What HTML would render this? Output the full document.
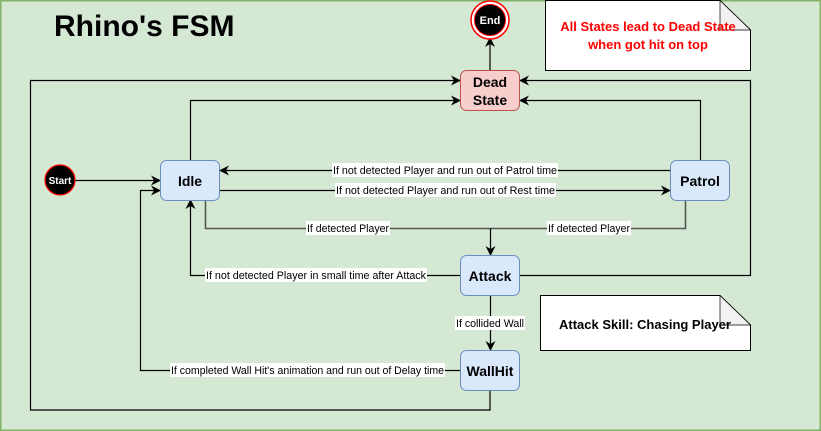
<!DOCTYPE html>
<html><head><meta charset="utf-8"><style>
html,body{margin:0;padding:0;background:#d5e8d4;}
svg{display:block;}
text{font-family:"Liberation Sans",Arial,sans-serif;}
.lbl{font-size:11px;fill:#000;}
.st{font-size:14px;font-weight:bold;fill:#000;}
</style></head><body>
<svg width="821" height="431" viewBox="0 0 821 431" xmlns="http://www.w3.org/2000/svg">
<defs>
<marker id="a" markerWidth="10" markerHeight="10" refX="9" refY="5" orient="auto" markerUnits="userSpaceOnUse">
<path d="M0,0 L10,5 L0,10 L3,5 Z" fill="#000"/>
</marker>
</defs>
<rect x="0.5" y="0.5" width="820" height="430" fill="#d5e8d4" stroke="#82b366" stroke-width="2"/>
<text x="54" y="36" style="font-size:30px;font-weight:bold">Rhino's FSM</text>

<path d="M545.5,0.5 H720 L750.5,30 V70.5 H545.5 Z" fill="#fff" stroke="#000"/>
<path d="M720,0.5 V30 H750.5 Z" fill="#f2f2f2" stroke="#000" stroke-width="0.7"/>
<text x="648" y="31" text-anchor="middle" style="font-size:13px;font-weight:bold;fill:#ff0000">All States lead to Dead State</text>
<text x="648" y="49" text-anchor="middle" style="font-size:13px;font-weight:bold;fill:#ff0000">when got hit on top</text>

<path d="M540.5,295.5 H720 L750.5,325 V350.5 H540.5 Z" fill="#fff" stroke="#000"/>
<path d="M720,295.5 V325 H750.5 Z" fill="#f2f2f2" stroke="#000" stroke-width="0.7"/>
<text x="645" y="329" text-anchor="middle" style="font-size:13px;font-weight:bold">Attack Skill: Chasing Player</text>

<g fill="none" stroke="#000" stroke-width="1.2">
<path d="M490,70 V38" marker-end="url(#a)"/>
<path d="M490,390 V410 H30.5 V80.5 H460" marker-end="url(#a)"/>
<path d="M520,275.5 H750.5 V80.5 H520" marker-end="url(#a)"/>
<path d="M190.5,160 V100.5 H460" marker-end="url(#a)"/>
<path d="M700.5,160 V100.5 H520" marker-end="url(#a)"/>
<path d="M670,170.5 H220" marker-end="url(#a)"/>
<path d="M220,190.5 H670" marker-end="url(#a)"/>
<path d="M75,180.5 H160" marker-end="url(#a)"/>
<path d="M205.5,200 V228.5 H685.5 V200" stroke="#555" stroke-width="1.6"/>
<path d="M490.5,228.5 V255" marker-end="url(#a)"/>
<path d="M460,275.5 H190.5 V200" marker-end="url(#a)"/>
<path d="M490.5,295 V350" marker-end="url(#a)"/>
<path d="M460,370.5 H140.5 V190.5 H160" marker-end="url(#a)"/>
</g>

<g class="lbl">
<rect x="332" y="163" width="226" height="14" fill="#fff"/>
<text x="333" y="174" textLength="224" lengthAdjust="spacingAndGlyphs">If not detected Player and run out of Patrol time</text>
<rect x="335" y="183" width="221" height="14" fill="#fff"/>
<text x="336" y="194" textLength="219" lengthAdjust="spacingAndGlyphs">If not detected Player and run out of Rest time</text>
<rect x="306" y="221" width="84" height="14" fill="#fff"/>
<text x="307" y="232" textLength="82" lengthAdjust="spacingAndGlyphs">If detected Player</text>
<rect x="547" y="221" width="84" height="14" fill="#fff"/>
<text x="548" y="232" textLength="82" lengthAdjust="spacingAndGlyphs">If detected Player</text>
<rect x="205" y="268" width="222" height="14" fill="#fff"/>
<text x="206" y="279" textLength="220" lengthAdjust="spacingAndGlyphs">If not detected Player in small time after Attack</text>
<rect x="455" y="316" width="70" height="14" fill="#fff"/>
<text x="456" y="327" textLength="68" lengthAdjust="spacingAndGlyphs">If collided Wall</text>
<rect x="170" y="363" width="275" height="14" fill="#fff"/>
<text x="171" y="374" textLength="273" lengthAdjust="spacingAndGlyphs">If completed Wall Hit's animation and run out of Delay time</text>
</g>

<circle cx="490" cy="20" r="19" fill="#fff" stroke="#ff0000" stroke-width="1.5"/>
<circle cx="490" cy="20" r="15.5" fill="#000" stroke="#ff0000" stroke-width="1"/>
<text x="490" y="24" text-anchor="middle" style="font-size:11px;font-weight:bold;fill:#fff">End</text>

<circle cx="60" cy="180" r="15" fill="#000" stroke="#ff0000" stroke-width="1.2"/>
<text x="60" y="184" text-anchor="middle" style="font-size:10px;font-weight:bold;fill:#fff">Start</text>

<rect x="460.5" y="70.5" width="59" height="40" rx="6" fill="#f8cecc" stroke="#b85450"/>
<text x="490" y="87" text-anchor="middle" class="st">Dead</text>
<text x="490" y="105" text-anchor="middle" class="st">State</text>

<g fill="#dae8fc" stroke="#6c8ebf">
<rect x="160.5" y="160.5" width="59" height="40" rx="6"/>
<rect x="670.5" y="160.5" width="59" height="40" rx="6"/>
<rect x="460.5" y="255.5" width="59" height="40" rx="6"/>
<rect x="460.5" y="350.5" width="59" height="40" rx="6"/>
</g>
<text x="190" y="186" text-anchor="middle" class="st">Idle</text>
<text x="700" y="186" text-anchor="middle" class="st">Patrol</text>
<text x="490" y="281" text-anchor="middle" class="st">Attack</text>
<text x="490" y="376" text-anchor="middle" class="st">WallHit</text>
</svg>
</body></html>
